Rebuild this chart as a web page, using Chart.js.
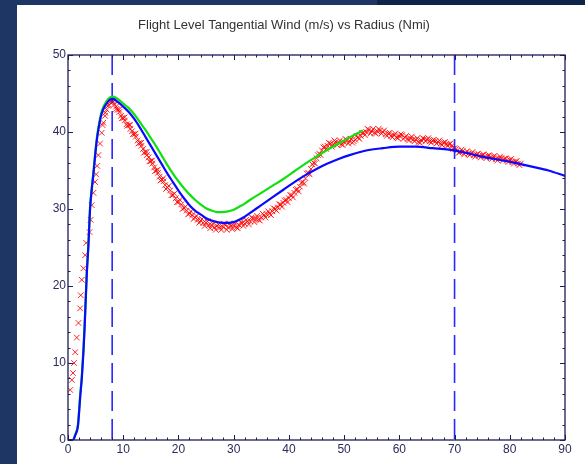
<!DOCTYPE html>
<html>
<head>
<meta charset="utf-8">
<script src="https://cdn.jsdelivr.net/npm/chart.js@4.4.0/dist/chart.umd.min.js"></script>
<style>
  html, body { margin: 0; padding: 0; width: 585px; height: 464px; overflow: hidden; background: #1d3664; }
  #band { position: absolute; left: 377px; top: 0; width: 208px; height: 5px; background: #10244a; }
  #panel { position: absolute; left: 17px; top: 5px; width: 568px; height: 459px; background: #fff; }
  canvas { display: block; }
</style>
</head>
<body>
<div id="band"></div>
<div id="panel"><canvas id="chart" width="568" height="459"></canvas></div>
<script>
// Flight level tangential wind profile vs radius

const titleText = 'Flight Level Tangential Wind (m/s) vs Radius (Nmi)';
const xTicks = [0, 10, 20, 30, 40, 50, 60, 70, 80, 90];
const yTicks = [0, 10, 20, 30, 40, 50];
const rmwLines = [8, 70]; // dashed radii

// Model profile (blue)
const modelWind = [
  [0, 0], [0.9, 0], [1.3, 0.6], [1.8, 1.8], [2.0, 3.5], [2.2, 5.5], [2.5, 8.0], [2.8, 11.5],
  [3.0, 14.5], [3.2, 18.0], [3.4, 21.5], [3.7, 25.3], [4.0, 30.0], [4.3, 32.5], [4.6, 34.5],
  [4.9, 36.8], [5.2, 38.8], [5.5, 40.3], [6.1, 42.4], [7.0, 43.7], [7.6, 44.2], [8.2, 44.3],
  [9, 43.9], [10, 43.3], [11, 42.6], [12, 41.7], [13, 40.6], [14, 39.4], [15, 38.2],
  [16, 37.0], [17, 35.8], [18, 34.6], [19, 33.5], [20, 32.4], [21, 31.4], [22, 30.5],
  [23, 29.8], [24, 29.3], [25, 28.8], [26, 28.5], [27, 28.3], [28, 28.2], [29, 28.2],
  [30, 28.3], [31, 28.6], [32, 29.0], [33, 29.5], [35, 30.5], [37, 31.5], [39, 32.5],
  [41, 33.5], [43, 34.4], [45, 35.2], [47, 35.9], [49, 36.5], [51, 37.0], [54, 37.6],
  [57, 37.9], [60, 38.1], [63, 38.1], [66, 37.9], [69, 37.7], [72, 37.3], [75, 36.8],
  [78, 36.4], [81, 36.0], [84, 35.5], [87, 35.0], [90, 34.3]
];

// Second profile (green)
const fitWind = [
  [0, 0], [0.9, 0], [1.3, 0.7], [1.8, 2.0], [2.0, 3.8], [2.2, 5.8], [2.5, 8.3], [2.8, 11.8],
  [3.0, 14.8], [3.2, 18.3], [3.4, 21.8], [3.7, 25.6], [4.0, 30.3], [4.3, 32.8], [4.6, 34.8],
  [4.9, 37.1], [5.2, 39.1], [5.5, 40.6], [6.1, 42.7], [7.0, 44.0], [7.6, 44.5], [8.2, 44.6],
  [9, 44.3], [10, 43.7], [11, 43.1], [12, 42.3], [13, 41.3], [14, 40.3], [15, 39.2],
  [16, 38.1], [17, 36.9], [18, 35.7], [19, 34.6], [20, 33.6], [21, 32.7], [22, 31.9],
  [23, 31.2], [24, 30.6], [25, 30.1], [26, 29.8], [27, 29.6], [28, 29.6], [29, 29.7],
  [30, 29.9], [31, 30.3], [32, 30.7], [33, 31.2], [35, 32.1], [37, 33.0], [39, 33.9],
  [41, 34.9], [43, 35.9], [45, 36.8], [47, 37.7], [49, 38.5], [51, 39.3], [53.4, 40.2]
];

// Observed flight-level wind (red x), outbound samples
const obsWind = [
  [0.4, 6.5], [0.7, 7.8], [0.9, 8.7], [1.1, 10.0], [1.3, 11.4], [1.6, 13.3], [1.9, 15.2],
  [2.2, 17.1], [2.3, 18.8], [2.5, 20.8], [2.8, 22.3], [3.1, 24.0], [3.3, 25.6], [3.9, 27.0],
  [4.1, 28.6], [4.3, 30.5], [4.6, 32.1], [4.9, 33.5], [5.1, 34.5], [5.3, 35.6], [5.5, 37.0],
  [5.8, 38.5], [6.1, 39.9], [6.4, 41.2], [6.7, 42.1], [7.0, 42.9], [7.4, 43.5], [7.8, 43.8],
  [8.1, 43.9], [8.4, 43.6], [8.7, 43.3], [9.0, 42.9], [9.3, 42.6], [9.6, 42.1], [10.0, 41.8],
  [10.3, 41.5], [10.6, 41.0], [11.0, 40.9], [11.3, 40.4], [11.6, 40.1], [12.0, 39.7],
  [12.3, 39.4], [12.6, 38.9], [13.0, 38.6], [13.3, 38.2], [13.6, 37.8], [14.0, 37.4],
  [14.3, 37.0], [14.6, 36.7], [15.0, 36.2], [15.3, 35.9], [15.6, 35.4], [16.0, 35.0],
  [16.3, 34.7], [16.6, 34.2], [17.0, 33.8], [17.3, 33.6], [17.6, 33.1], [18.0, 32.8],
  [18.5, 32.4], [19.0, 31.8], [19.5, 31.4], [20.0, 30.9], [20.5, 30.6], [21.0, 30.1],
  [21.5, 29.8], [22.0, 29.4], [22.5, 29.2], [23.0, 28.9], [23.5, 28.6], [24.0, 28.5],
  [24.5, 28.2], [25.0, 28.2], [25.5, 27.9], [26.0, 27.9], [26.5, 27.6], [27.0, 27.8],
  [27.5, 27.6], [28.0, 27.7], [28.5, 27.9], [29.0, 27.6], [29.5, 27.8], [30.0, 27.8],
  [30.5, 27.6], [31.0, 27.9], [31.5, 28.2], [32.0, 28.1], [32.5, 28.4], [33.0, 28.4],
  [33.5, 28.8], [34.0, 28.7], [34.5, 28.6], [35.0, 28.9], [35.5, 29.2], [36.0, 29.3],
  [36.5, 29.4], [37.0, 29.7], [37.5, 30.0], [38.0, 30.2], [38.5, 30.6], [39.0, 30.8],
  [39.5, 31.2], [40.0, 31.4], [40.5, 31.8], [41.0, 32.1], [41.5, 32.6], [42.0, 32.9],
  [42.5, 33.5], [43.0, 34.0], [43.5, 34.7], [44.0, 35.2], [44.5, 36.0], [45.0, 36.6],
  [45.5, 37.2], [46.0, 37.6], [46.5, 38.1], [47.0, 38.2], [47.5, 38.5], [48.0, 38.4],
  [48.5, 38.7], [49.0, 38.6], [49.5, 38.4], [50.0, 38.7], [50.5, 38.9], [51.0, 38.8],
  [51.5, 38.6], [52.0, 39.0], [52.5, 39.3], [53.0, 39.5], [53.5, 39.9], [54.0, 40.0],
  [54.5, 40.3], [55.0, 40.1], [55.5, 39.9], [56.0, 40.1], [56.5, 40.2], [57.0, 40.0],
  [57.5, 39.7], [58.0, 39.8], [58.5, 39.5], [59.0, 39.6], [59.5, 39.3], [60.0, 39.5],
  [60.5, 39.6], [61.0, 39.3], [61.5, 39.1], [62.0, 39.2], [62.5, 39.0], [63.0, 39.0],
  [63.5, 38.7], [64.0, 38.9], [64.5, 39.1], [65.0, 39.0], [65.5, 38.8], [66.0, 38.9],
  [66.5, 38.8], [67.0, 38.7], [67.5, 38.5], [68.0, 38.6], [68.5, 38.4], [69.0, 38.4],
  [69.5, 38.2], [70.0, 37.9], [70.5, 37.6], [71.0, 37.4], [71.5, 37.5], [72.0, 37.3],
  [72.5, 37.2], [73.0, 37.2], [73.5, 37.0], [74.0, 37.1], [74.5, 36.9], [75.0, 37.0],
  [75.5, 36.8], [76.0, 36.9], [76.5, 36.7], [77.0, 36.8], [77.5, 36.5], [78.0, 36.6],
  [78.5, 36.6], [79.0, 36.5], [79.5, 36.3], [80.0, 36.4], [80.5, 36.1], [81.0, 36.2],
  [81.5, 35.9], [82.0, 35.9]
];

// Observed flight-level wind (red x), inbound samples
const obsWindB = [
  [6.25, 40.9], [6.75, 42.5], [7.25, 43.4], [7.75, 44.0],
  [8.25, 44.0], [8.75, 43.0], [9.25, 42.9], [9.75, 41.8], [10.25, 41.9], [10.75, 40.8],
  [11.25, 40.9], [11.75, 39.7], [12.25, 39.8], [12.75, 38.5], [13.25, 38.6], [13.75, 37.3],
  [14.25, 37.4], [14.75, 36.2], [15.25, 36.3], [15.75, 34.9], [16.25, 35.1], [16.75, 33.7],
  [17.25, 34.0], [17.75, 32.6], [18.25, 33.0], [18.75, 31.8], [19.25, 32.0], [19.75, 30.9],
  [20.25, 31.2], [20.75, 30.0], [21.25, 30.3], [21.75, 29.3], [22.25, 29.7], [22.75, 28.7],
  [23.25, 29.1], [23.75, 28.2], [24.25, 28.7], [24.75, 27.8], [25.25, 28.4], [25.75, 27.5],
  [26.25, 28.1], [26.75, 27.3], [27.25, 28.0], [27.75, 27.3], [28.25, 28.1], [28.75, 27.3],
  [29.25, 28.1], [29.75, 27.4], [30.25, 28.1], [30.75, 27.5], [31.25, 28.3], [31.75, 27.8],
  [32.25, 28.6], [32.75, 28.0], [33.25, 28.9], [33.75, 28.3], [34.25, 29.1], [34.75, 28.5],
  [35.25, 29.4], [35.75, 28.9], [36.25, 29.7], [36.75, 29.2], [37.25, 30.1], [37.75, 29.8],
  [38.25, 30.6], [38.75, 30.3], [39.25, 31.1], [39.75, 30.9], [40.25, 31.8], [40.75, 31.5],
  [41.25, 32.5], [41.75, 32.3], [42.25, 33.4], [42.75, 33.3], [43.25, 34.6], [43.75, 34.5],
  [44.25, 35.8], [44.75, 35.9], [45.25, 37.0], [45.75, 37.0], [46.25, 38.0], [46.75, 37.8],
  [47.25, 38.6], [47.75, 38.1], [48.25, 38.9], [48.75, 38.3], [49.25, 38.9], [49.75, 38.3],
  [50.25, 39.1], [50.75, 38.5], [51.25, 39.1], [51.75, 38.8], [52.25, 39.5], [52.75, 39.1],
  [53.25, 39.9], [53.75, 39.6], [54.25, 40.4], [54.75, 39.8], [55.25, 40.4], [55.75, 39.8],
  [56.25, 40.4], [56.75, 39.8], [57.25, 40.2], [57.75, 39.5], [58.25, 39.9], [58.75, 39.3],
  [59.25, 39.8], [59.75, 39.2], [60.25, 39.7], [60.75, 39.1], [61.25, 39.5], [61.75, 38.9],
  [62.25, 39.4], [62.75, 38.8], [63.25, 39.2], [63.75, 38.6], [64.25, 39.2], [64.75, 38.8],
  [65.25, 39.2], [65.75, 38.6], [66.25, 39.0], [66.75, 38.5], [67.25, 38.9], [67.75, 38.3],
  [68.25, 38.7], [68.75, 38.2], [69.25, 38.5], [69.75, 37.8], [70.25, 37.8], [70.75, 37.3],
  [71.25, 37.7], [71.75, 37.1], [72.25, 37.5], [72.75, 37.0], [73.25, 37.4], [73.75, 36.8],
  [74.25, 37.2], [74.75, 36.7], [75.25, 37.1], [75.75, 36.6], [76.25, 37.0], [76.75, 36.5],
  [77.25, 36.9], [77.75, 36.3], [78.25, 36.8], [78.75, 36.3], [79.25, 36.6], [79.75, 36.1],
  [80.25, 36.5], [80.75, 35.9], [81.25, 36.2], [81.75, 35.7]
];

const toPts = arr => arr.map(([x, y]) => ({ x, y }));
const axisColor = '#1c1c58';
const labelColor = '#2b2b5c';

// Frame with inward major/minor ticks on all four sides, plus title
const framePlugin = {
  id: 'frame',
  afterDatasetsDraw(chart) {
    const { ctx, chartArea: a, scales: { x, y } } = chart;
    ctx.save();
    ctx.strokeStyle = axisColor;
    ctx.lineWidth = 1.3;
    ctx.strokeRect(a.left, a.top, a.right - a.left, a.bottom - a.top);
    ctx.lineWidth = 1;
    ctx.beginPath();
    for (let v = 0; v <= 90; v += 2) {
      const px = Math.round(x.getPixelForValue(v)) + 0.5;
      const len = v % 10 === 0 ? 5 : 2.5;
      ctx.moveTo(px, a.bottom); ctx.lineTo(px, a.bottom - len);
      ctx.moveTo(px, a.top); ctx.lineTo(px, a.top + len);
    }
    for (let v = 0; v <= 50; v += 2) {
      const py = Math.round(y.getPixelForValue(v)) + 0.5;
      const len = v % 10 === 0 ? 5 : 2.5;
      ctx.moveTo(a.left, py); ctx.lineTo(a.left + len, py);
      ctx.moveTo(a.right, py); ctx.lineTo(a.right - len, py);
    }
    ctx.stroke();

    ctx.fillStyle = '#333';
    ctx.font = '13px Arial, "Liberation Sans", sans-serif';
    ctx.textAlign = 'center';
    ctx.textBaseline = 'middle';
    ctx.fillText(titleText, 267, 20);
    ctx.restore();
  }
};

const dashed = rmwLines.map(r => ({
  data: [{ x: r, y: 50 }, { x: r, y: 0 }],
  showLine: true,
  borderColor: '#2828ff',
  borderWidth: 1.6,
  borderDash: [20, 8],
  pointRadius: 0,
  order: 2
}));

const obsStyle = {
  showLine: false,
  pointStyle: 'crossRot',
  pointRadius: 4,
  borderColor: 'rgba(255,0,0,0.85)',
  borderWidth: 1,
  order: 3
};

new Chart(document.getElementById('chart'), {
  type: 'scatter',
  data: {
    datasets: [
      {
        label: 'Model',
        data: toPts(modelWind),
        showLine: true,
        borderColor: '#0a0aff',
        borderWidth: 2.2,
        pointRadius: 0,
        cubicInterpolationMode: 'monotone',
        order: 0
      },
      {
        label: 'Fit',
        data: toPts(fitWind),
        showLine: true,
        borderColor: '#10e010',
        borderWidth: 2.2,
        pointRadius: 0,
        cubicInterpolationMode: 'monotone',
        order: 1
      },
      ...dashed,
      { label: 'Observed', data: toPts(obsWind), ...obsStyle },
      { label: 'Observed B', data: toPts(obsWindB), ...obsStyle }
    ]
  },
  options: {
    responsive: false,
    animation: false,
    layout: { padding: { top: 50, right: 20, left: 0, bottom: 0 } },
    plugins: { legend: { display: false }, tooltip: { enabled: false } },
    scales: {
      x: {
        type: 'linear', min: 0, max: 90,
        grid: { display: false, drawTicks: false },
        border: { display: false },
        afterBuildTicks: s => { s.ticks = xTicks.map(v => ({ value: v })); },
        afterFit: s => { s.height = 24; },
        ticks: {
          color: labelColor, padding: 2, maxRotation: 0, autoSkip: false,
          font: { family: 'Arial, "Liberation Sans", sans-serif', size: 12 }
        }
      },
      y: {
        type: 'linear', min: 0, max: 50,
        grid: { display: false, drawTicks: false },
        border: { display: false },
        afterBuildTicks: s => { s.ticks = yTicks.map(v => ({ value: v })); },
        afterFit: s => { s.width = 51; },
        ticks: {
          color: labelColor, padding: 2, autoSkip: false,
          font: { family: 'Arial, "Liberation Sans", sans-serif', size: 12 }
        }
      }
    }
  },
  plugins: [framePlugin]
});
</script>
</body>
</html>
